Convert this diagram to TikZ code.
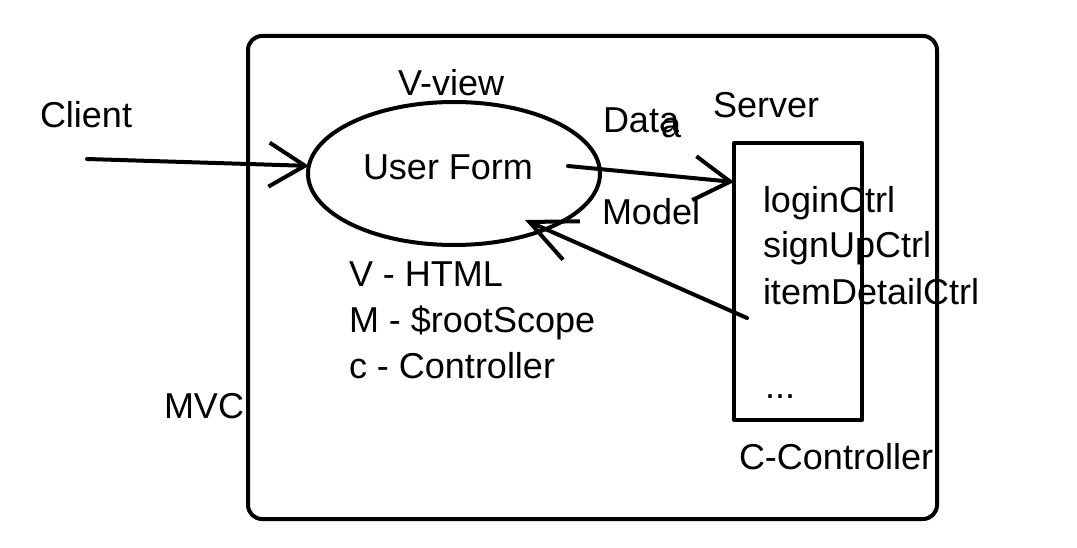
\documentclass[tikz,border=0pt]{standalone}
\usepackage{fontspec}
\setmainfont{Liberation Sans}
\usetikzlibrary{arrows.meta,shapes.geometric}
\begin{document}
\begin{tikzpicture}[x=1pt,y=-1pt,
  every node/.style={font=\fontsize{36}{46}\selectfont, inner sep=0pt, outer sep=0pt},
  lbl/.style={anchor=base west},
  stroke/.style={line width=4pt, line cap=round, line join=round},
  conn/.style={stroke, -{Straight Barb[length=36pt,width=44pt,line width=4pt]}},
  conn2/.style={stroke, -{Straight Barb[length=46pt,width=42pt,line width=4pt]}}]
\useasboundingbox (0,0) rectangle (1077,548);
% frame
\draw[stroke, rounded corners=14pt] (248,36) rectangle (937,519);
% view ellipse
\node[draw, stroke, ellipse, minimum width=292pt, minimum height=143pt] (form) at (454,173.5) {};
\node[lbl] (uf) at (363,180) {User Form};
\node[lbl] (vview) at (398,96) {V-view};
% server box
\node[draw, stroke, minimum width=128pt, minimum height=277pt, anchor=north west] (srv) at (734,143) {};
\node[lbl] (server) at (713,118) {Server};
\node[lbl] (l1) at (763,213) {loginCtrl};
\node[lbl] (l2) at (763,258) {signUpCtrl};
\node[lbl] (l3) at (763,305) {itemDetailCtrl};
\node[lbl] (l4) at (765,398) {...};
\node[lbl] (cc) at (739,469) {C-Controller};
% labels
\node[lbl] (client) at (40,128) {Client};
\node[lbl] (data) at (603,133) {Data};
\node[lbl] (dataa) at (661,138) {a};
\node[lbl] (model) at (602,225) {Model};
\node[lbl] (t1) at (349,287) {V - HTML};
\node[lbl] (t2) at (349,333) {M - \$rootScope};
\node[lbl] (t3) at (349,378) {c - Controller};
\node[lbl] (mvc) at (164,418) {MVC};
% connector ends
\coordinate (cstart) at (87,159);
\coordinate (dstart) at (568,166);
\coordinate (dend) at (734,182);
\coordinate (rstart) at (747,318);
\coordinate (rend) at (525,220);
% connectors
\draw[conn] (cstart) -- (form.177);
\draw[conn] (dstart) -- (dend);
\draw[conn2] (rstart) -- (rend);
\end{tikzpicture}
\end{document}
